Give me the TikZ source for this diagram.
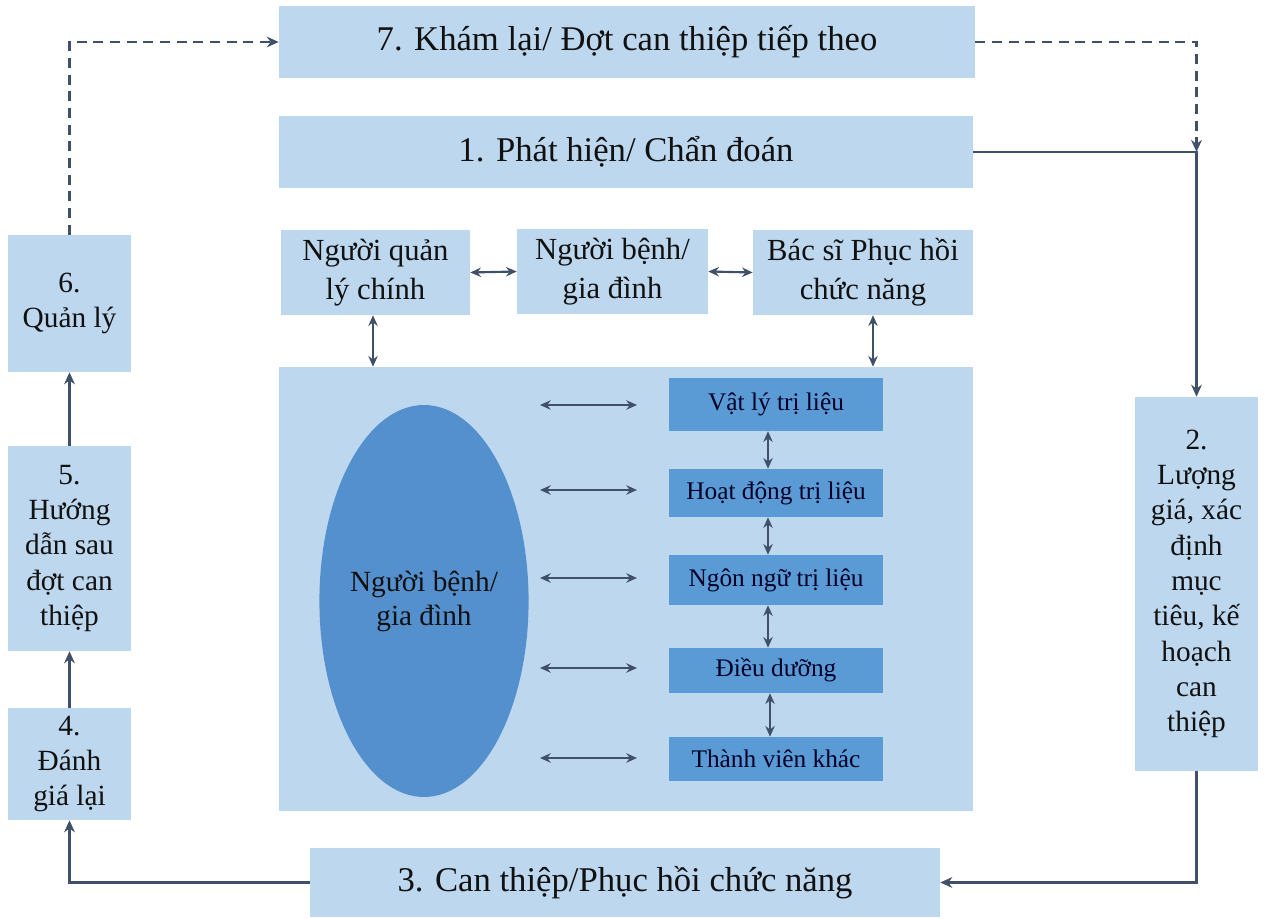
\documentclass[tikz,border=0pt]{standalone}
\usepackage{fontspec}
\setmainfont{Liberation Serif}
\usetikzlibrary{arrows.meta,shapes.geometric}
\definecolor{lightbox}{HTML}{BDD7EE}
\definecolor{darkbox}{HTML}{5B9BD5}
\definecolor{ellfill}{HTML}{5590CE}
\definecolor{arrowc}{HTML}{3F5068}
\definecolor{txt}{HTML}{111111}
\begin{document}
\begin{tikzpicture}[x=0.75pt,y=-0.75pt,
  lbox/.style={fill=lightbox,draw=none,inner sep=0pt,align=center,text=txt},
  dbox/.style={fill=darkbox,draw=none,inner sep=0pt,align=center,text=black!85!blue,font=\fontsize{19}{22}\selectfont},
  big/.style={font=\fontsize{26}{30}\selectfont},
  mid/.style={font=\fontsize{23}{29}\selectfont},
  side/.style={font=\fontsize{22}{26.5}\selectfont},
  conn/.style={draw=arrowc,line width=1.9pt,-{Stealth[length=9pt,width=8pt]}},
  dconn/.style={conn,dash pattern=on 7.5pt off 5pt},
  bconn/.style={draw=arrowc,line width=1.6pt,{Stealth[length=8pt,width=7pt]}-{Stealth[length=8pt,width=7pt]}}]
\useasboundingbox (0,0) rectangle (1265,919);
% top boxes
\node[lbox,big,minimum width=522pt,minimum height=54pt] (b7) at (627,42) {7. Khám lại/ Đợt can thiệp tiếp theo};
\node[lbox,big,minimum width=520.5pt,minimum height=54pt] (b1) at (626,152) {1. Phát hiện/ Chẩn đoán};
% team row
\node[lbox,mid,minimum width=141.75pt,minimum height=63.75pt] (ql) at (375.5,272.5) {Người quản\\lý chính};
\node[lbox,mid,minimum width=143.25pt,minimum height=63.75pt] (nb) at (612.5,271.5) {Người bệnh/\\gia đình};
\node[lbox,mid,minimum width=165pt,minimum height=63.75pt] (bs) at (863,272.5) {Bác sĩ Phục hồi\\chức năng};
% panel
\node[lbox,minimum width=520.5pt,minimum height=333pt] (panel) at (626,589) {};
\node[ellipse,fill=ellfill,draw=none,minimum width=153.75pt,minimum height=294pt,inner sep=0pt,align=center,font=\fontsize{22}{25.5}\selectfont,text=txt] (ell) at (424,601) {Người bệnh/\\gia đình};
% dark boxes
\node[dbox,minimum width=160.5pt,minimum height=39.75pt] (vl) at (776,404.5) {Vật lý trị liệu};
\node[dbox,minimum width=160.5pt,minimum height=36pt] (hd) at (776,493) {Hoạt động trị liệu};
\node[dbox,minimum width=160.5pt,minimum height=37.5pt] (nn) at (776,580) {Ngôn ngữ trị liệu};
\node[dbox,minimum width=160.5pt,minimum height=33.75pt] (dd) at (776,670.5) {Điều dưỡng};
\node[dbox,minimum width=160.5pt,minimum height=33pt] (tv) at (776,759) {Thành viên khác};
% left column
\node[lbox,side,minimum width=92.25pt,minimum height=102.75pt] (s6) at (69.5,303.5) {6.\\Quản lý};
\node[lbox,side,minimum width=92.25pt,minimum height=153.75pt] (s5) at (69.5,548.5) {5.\\Hướng\\dẫn sau\\đợt can\\thiệp};
\node[lbox,side,minimum width=92.25pt,minimum height=84pt] (s4) at (69.5,764) {4.\\Đánh\\giá lại};
% right column
\node[lbox,side,minimum width=92.25pt,minimum height=280.5pt] (b2) at (1196.5,584) {2.\\Lượng\\giá, xác\\định\\mục\\tiêu, kế\\hoạch\\can\\thiệp};
% bottom
\node[lbox,big,minimum width=472.5pt,minimum height=51.75pt] (b3) at (625,882.5) {3. Can thiệp/Phục hồi chức năng};
% coordinates
\coordinate (vx1) at (768,0);
\coordinate (vx2) at (770,0);
\coordinate (qx) at (373,0);
\coordinate (bx) at (873,0);
\foreach \i/\y in {1/405,2/490,3/578,4/668,5/758}{
  \coordinate (hl\i) at (540,\y);
  \coordinate (hr\i) at (637,\y);
}
% connectors
\draw[dconn] (s6.north) |- (b7.west);
\draw[dconn] (b7.east) -| (b2.north |- b1.east);
\draw[conn] (b1.east) -| (b2.north);
\draw[conn] (b2.south) |- (b3.east);
\draw[conn] (b3.west) -| (s4.south);
\draw[conn] (s4.north) -- (s5.south);
\draw[conn] (s5.north) -- (s6.south);
\draw[bconn] (ql.east) -- (nb.west);
\draw[bconn] (nb.east) -- (bs.west);
\draw[bconn] (ql.south -| qx) -- (panel.north -| qx);
\draw[bconn] (bs.south -| bx) -- (panel.north -| bx);
\foreach \i in {1,...,5}{\draw[bconn] (hl\i) -- (hr\i);}
\draw[bconn] (vl.south -| vx1) -- (hd.north -| vx1);
\draw[bconn] (hd.south -| vx1) -- (nn.north -| vx1);
\draw[bconn] (nn.south -| vx1) -- (dd.north -| vx1);
\draw[bconn] (dd.south -| vx2) -- (tv.north -| vx2);
\end{tikzpicture}
\end{document}
